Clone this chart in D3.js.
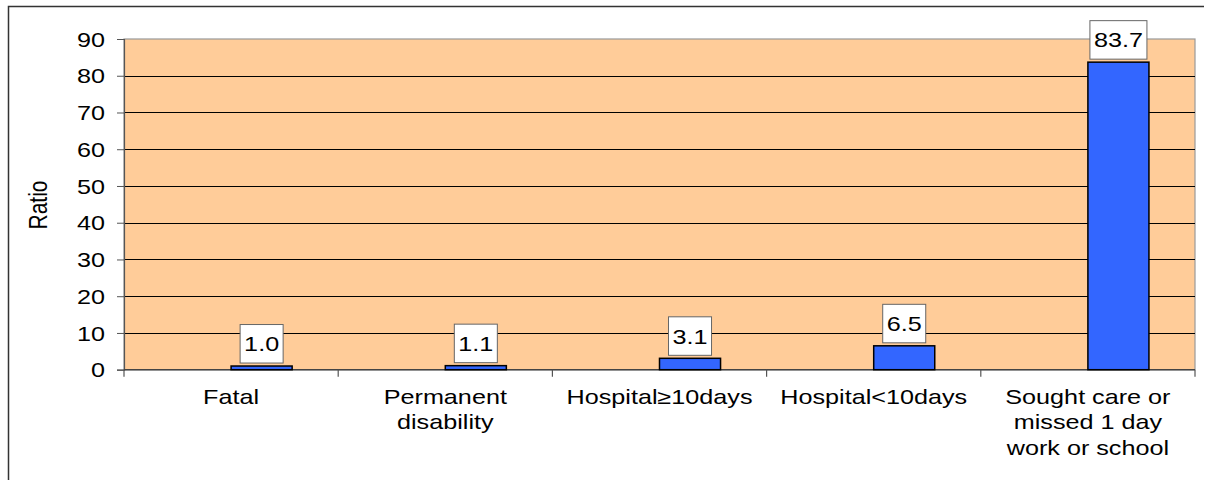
<!DOCTYPE html>
<html>
<head>
<meta charset="utf-8">
<script src="https://cdn.jsdelivr.net/npm/d3@7"></script>
<style>
  body { margin: 0; background: #fff; }
  text { font-family: "Liberation Sans", Arial, sans-serif; fill: #000; }
</style>
</head>
<body>
<div id="chart"></div>
<script>
// Data
const categories = [
    ["Fatal"],
    ["Permanent", "disability"],
    ["Hospital\u226510days"],
    ["Hospital<10days"],
    ["Sought care or", "missed 1 day", "work or school"]
];
const values = [1.0, 1.1, 3.1, 6.5, 83.7];
const yTicks = [0, 10, 20, 30, 40, 50, 60, 70, 80, 90];

const width = 1211;
const height = 480;
const fontSize = 20;
const sx = 1.26; // the original art is stretched sideways

const svg = d3.select("#chart")
    .append("svg")
    .attr("width", width)
    .attr("height", height);

// outer frame (only left and top edges fall inside the picture)
svg.append("path")
    .attr("d", "M8.5,480V6.5H1204")
    .attr("fill", "none")
    .attr("stroke", "#333")
    .attr("stroke-width", 1.5);

const keys = categories.map((c, i) => i);
const x = d3.scaleBand()
    .domain(keys)
    .range([124, 1195])
    .padding(0);

const y = d3.scaleLinear()
    .domain([0, 90])
    .range([369.7, 39]);

// plot background
svg.append("rect")
    .attr("x", x.range()[0])
    .attr("y", y(90))
    .attr("width", x.range()[1] - x.range()[0])
    .attr("height", y(0) - y(90))
    .attr("fill", "#FFCC99")
    .attr("stroke", "#999")
    .attr("stroke-width", 1.2);

// gridlines
svg.append("g")
    .selectAll("line")
    .data(yTicks.filter(d => d > 0 && d < 90))
    .enter()
    .append("line")
    .attr("x1", x.range()[0])
    .attr("x2", x.range()[1])
    .attr("y1", d => Math.round(y(d)) + 0.5)
    .attr("y2", d => Math.round(y(d)) + 0.5)
    .attr("stroke", "#000")
    .attr("stroke-width", 1);

// y axis
const yAxis = svg.append("g")
    .attr("transform", `translate(${x.range()[0]},0)`)
    .call(d3.axisLeft(y).tickValues(yTicks).tickSize(7).tickPadding(0).tickFormat(d3.format("d")));
yAxis.select(".domain").attr("stroke", "#555").attr("stroke-width", 1.2);
yAxis.selectAll(".tick line").attr("stroke", "#555");
yAxis.selectAll(".tick text").remove();
yAxis.selectAll(".tick")
    .append("g")
    .attr("transform", `translate(-19,0) scale(${sx},1)`)
    .append("text")
    .attr("text-anchor", "end")
    .attr("dy", "0.36em")
    .style("font-size", fontSize + "px")
    .text(d => d);

// x axis line and ticks at category boundaries
svg.append("line")
    .attr("x1", x.range()[0])
    .attr("x2", x.range()[1])
    .attr("y1", y(0))
    .attr("y2", y(0))
    .attr("stroke", "#444")
    .attr("stroke-width", 1.5);

const bounds = keys.map(k => x(k)).concat([x.range()[1]]);
svg.append("g")
    .selectAll("line")
    .data(bounds)
    .enter()
    .append("line")
    .attr("x1", d => d)
    .attr("x2", d => d)
    .attr("y1", y(0))
    .attr("y2", y(0) + 7)
    .attr("stroke", "#555")
    .attr("stroke-width", 1.2);

// category labels
const catLabel = svg.append("g")
    .selectAll("g")
    .data(categories)
    .enter()
    .append("g")
    .attr("transform", (d, i) => `translate(${x(i) + x.bandwidth() / 2},404) scale(${sx},1)`);
catLabel.selectAll("text")
    .data(d => d)
    .enter()
    .append("text")
    .attr("text-anchor", "middle")
    .attr("y", (d, j) => j * 25.5)
    .style("font-size", fontSize + "px")
    .text(d => d);

// y axis title
svg.append("g")
    .attr("transform", `translate(37,205) scale(${sx},1) rotate(-90)`)
    .append("text")
    .attr("text-anchor", "middle")
    .attr("dy", "0.36em")
    .style("font-size", "21px")
    .text("Ratio");

// bars: drawn in the right half of each category slot
const barW = x.bandwidth() * 0.285;
const barX = i => x(i) + x.bandwidth() / 2;
svg.append("g")
    .selectAll("rect")
    .data(values)
    .enter()
    .append("rect")
    .attr("x", (d, i) => barX(i))
    .attr("y", d => y(d))
    .attr("width", barW)
    .attr("height", d => y(0) - y(d))
    .attr("fill", "#3366FF")
    .attr("stroke", "#000")
    .attr("stroke-width", 1.5);

// value labels in white boxes
const lab = svg.append("g")
    .selectAll("g")
    .data(values)
    .enter()
    .append("g")
    .attr("transform", (d, i) => `translate(${barX(i) + barW / 2},${y(d) - 3})`);

lab.append("rect")
    .attr("fill", "#fff")
    .attr("stroke", "#666")
    .attr("stroke-width", 1);

lab.append("g")
    .attr("transform", `translate(0,-19) scale(${sx},1)`)
    .append("text")
    .attr("text-anchor", "middle")
    .attr("dy", "0.36em")
    .style("font-size", fontSize + "px")
    .text(d => d3.format(".1f")(d));

lab.each(function() {
    const g = d3.select(this);
    const w = g.select("text").node().getComputedTextLength() * sx + 8;
    g.select("rect")
        .attr("x", -w / 2)
        .attr("y", -38.5)
        .attr("width", w)
        .attr("height", 38.5);
});
</script>
</body>
</html>
